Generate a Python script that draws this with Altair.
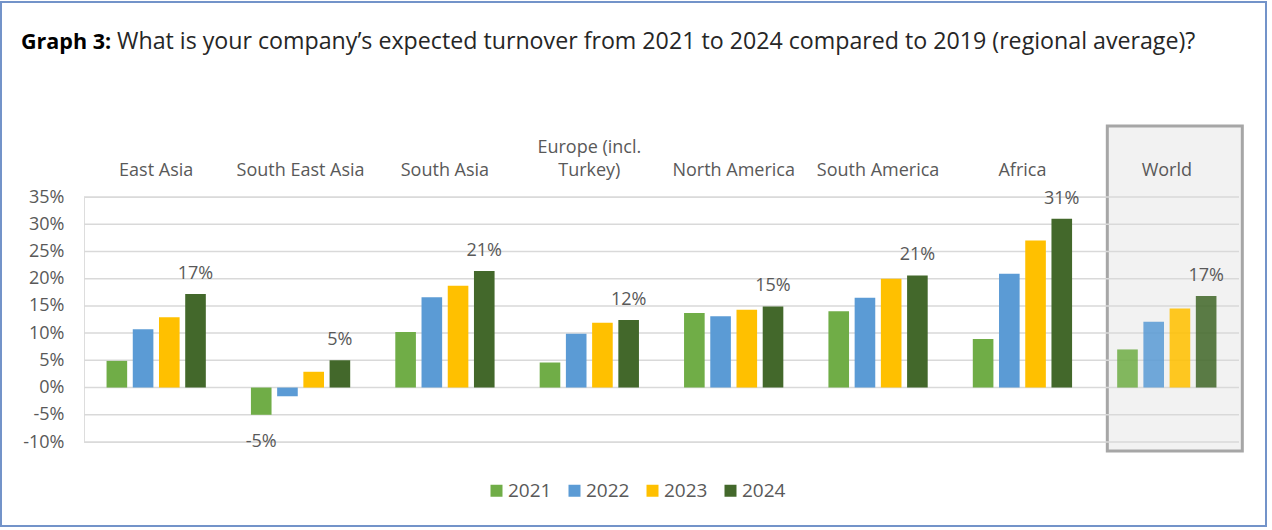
import altair as alt
import pandas as pd

categories = ["East Asia", "South East Asia", "South Asia", "Europe (incl. Turkey)",
              "North America", "South America", "Africa", "World"]
years = ["2021", "2022", "2023", "2024"]
v2021 = [4.9, -5.0, 10.2, 4.6, 13.7, 14.0, 8.9, 7.0]
v2022 = [10.7, -1.6, 16.6, 9.9, 13.1, 16.5, 20.9, 12.1]
v2023 = [12.9, 2.9, 18.7, 11.9, 14.3, 20.0, 27.0, 14.5]
v2024 = [17.2, 5.0, 21.4, 12.4, 14.9, 20.6, 31.0, 16.8]
y_ticks = [-10, -5, 0, 5, 10, 15, 20, 25, 30, 35]
colors = ["#70AD47", "#5B9BD5", "#FFC000", "#43682B"]
# bars carrying a data label: (category, year)
labeled = [(c, "2024") for c in categories] + [("South East Asia", "2021")]

rows = []
for yr, vals in zip(years, [v2021, v2022, v2023, v2024]):
    for c, v in zip(categories, vals):
        rows.append({"category": c, "year": yr, "value": v,
                     "labeled": (c, yr) in labeled,
                     "label": f"{round(v):d}%"})
df = pd.DataFrame(rows)

W, H = 1155, 245
GRAY = "#595959"
FONT = "Open Sans"

xscale = alt.Scale(domain=categories, paddingInner=0, paddingOuter=0)
yscale = alt.Scale(domain=[-10, 35], nice=False, zero=False)
xoff = alt.XOffset("year:N", sort=years,
                   scale=alt.Scale(domain=years, paddingInner=0.214, paddingOuter=0.86))

xaxis = alt.Axis(orient="top", title=None, labelAngle=0, ticks=False, domain=False,
                 grid=False, labelPadding=45, labelFontSize=18, labelColor=GRAY,
                 labelFont=FONT, labelLineHeight=23, labelLimit=0,
                 labelAlign="center", labelBaseline="alphabetic",
                 labelOverlap=False, labelBound=False, labelFlush=False,
                 labelExpr="datum.label == 'Europe (incl. Turkey)' ? ['Europe (incl.', 'Turkey)'] : [' ', datum.label]")
yaxis = alt.Axis(values=y_ticks, labelExpr="datum.value + '%'", grid=False, ticks=False,
                 domain=False, labelPadding=20, labelFontSize=18, labelColor=GRAY,
                 labelFont=FONT, title=None, labelOverlap=False, labelBound=False,
                 labelFlush=False)

dummy = pd.DataFrame({"a": [0]})

border = alt.Chart(dummy).mark_rect(fillOpacity=0, stroke="#7393c9", strokeWidth=2).encode(
    x=alt.value(-83), x2=alt.value(1182), y=alt.value(-195), y2=alt.value(329))

world_box = alt.Chart(df[(df.year == "2021") & (df.category == "World")]).mark_rect(
    fill="#f2f2f2", stroke="#a6a6a6", strokeWidth=3, width=135, xOffset=8).encode(
    x=alt.X("category:N", sort=categories, scale=xscale, axis=xaxis),
    y=alt.value(-71), y2=alt.value(254))

grid = alt.Chart(pd.DataFrame({"g": y_ticks})).mark_rule(color="#d9d9d9", strokeWidth=1.5).encode(
    y=alt.Y("g:Q", scale=yscale, axis=yaxis))

bars = alt.Chart(df).mark_bar().encode(
    x=alt.X("category:N", sort=categories, scale=xscale, axis=xaxis),
    xOffset=xoff,
    y=alt.Y("value:Q", scale=yscale, axis=yaxis),
    color=alt.Color("year:N", sort=years, scale=alt.Scale(domain=years, range=colors),
                    legend=alt.Legend(orient="none", legendX=403, legendY=284, direction="horizontal",
                                      title=None, symbolType="square", symbolSize=144,
                                      symbolStrokeWidth=0, labelFontSize=19, labelColor=GRAY,
                                      labelFont=FONT, labelOffset=2, columnPadding=13)),
    opacity=alt.condition(alt.datum.category == "World", alt.value(0.87), alt.value(1.0)))

pos_labels = alt.Chart(df).transform_filter(
    "datum.labeled && datum.value >= 0").mark_text(
    dy=-15, baseline="alphabetic", fontSize=18, color=GRAY, font=FONT).encode(
    x=alt.X("category:N", sort=categories, scale=xscale, axis=xaxis), xOffset=xoff,
    y=alt.Y("value:Q", scale=yscale, axis=yaxis), text="label:N")

neg_labels = alt.Chart(df).transform_filter(
    "datum.labeled && datum.value < 0").mark_text(
    dy=32, baseline="alphabetic", fontSize=18, color=GRAY, font=FONT).encode(
    x=alt.X("category:N", sort=categories, scale=xscale, axis=xaxis), xOffset=xoff,
    y=alt.Y("value:Q", scale=yscale, axis=yaxis), text="label:N")

title_bold = alt.Chart(dummy).mark_text(
    text="Graph 3:", fontWeight="bold", fontSize=21.5, align="left", baseline="alphabetic",
    font=FONT, color="#000000").encode(x=alt.value(-63), y=alt.value(-148))
title_reg = alt.Chart(dummy).mark_text(
    text="What is your company\u2019s expected turnover from 2021 to 2024 compared to 2019 (regional average)?",
    fontSize=23.2, align="left", baseline="alphabetic", font=FONT, color="#262626").encode(
    x=alt.value(33), y=alt.value(-148))

chart = alt.layer(border, world_box, grid, bars, pos_labels, neg_labels, title_bold, title_reg).properties(
    width=W, height=H,
    autosize=alt.AutoSizeParams(type="none"),
    padding={"left": 84, "top": 197, "right": 33, "bottom": 88},
    background="white",
).configure_view(stroke=None).configure(font=FONT)

chart.save("out.html", embed_options={"renderer": "svg", "actions": False})
